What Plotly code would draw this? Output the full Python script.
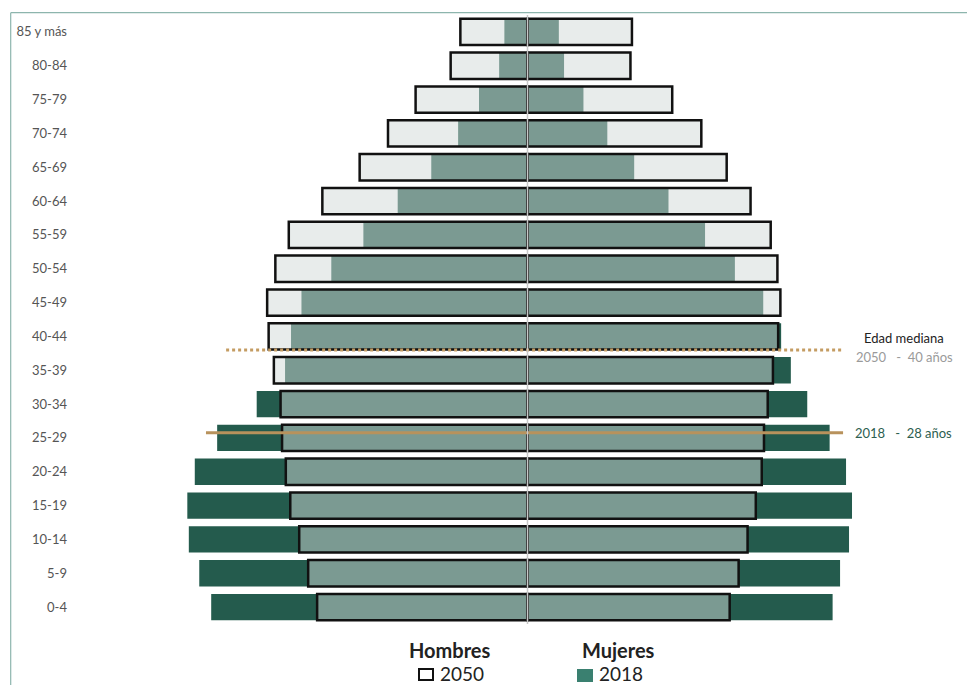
import plotly.graph_objects as go

# ---------------- data (percent of total population) ----------------
age_groups = ["0-4", "5-9", "10-14", "15-19", "20-24", "25-29", "30-34", "35-39",
              "40-44", "45-49", "50-54", "55-59", "60-64", "65-69", "70-74",
              "75-79", "80-84", "85 y más"]

men_2018 = [4.24, 4.40, 4.54, 4.56, 4.46, 4.16, 3.63, 3.25, 3.17, 3.03,
            2.63, 2.20, 1.74, 1.29, 0.93, 0.65, 0.38, 0.31]
women_2018 = [4.09, 4.19, 4.31, 4.35, 4.27, 4.05, 3.75, 3.53, 3.40, 3.16,
              2.78, 2.38, 1.89, 1.43, 1.07, 0.75, 0.49, 0.42]
men_2050 = [2.82, 2.94, 3.06, 3.18, 3.24, 3.29, 3.31, 3.40, 3.47, 3.49,
            3.38, 3.20, 2.75, 2.25, 1.87, 1.50, 1.03, 0.90]
women_2050 = [2.71, 2.83, 2.95, 3.06, 3.14, 3.17, 3.22, 3.29, 3.36, 3.39,
              3.35, 3.26, 2.99, 2.67, 2.33, 1.94, 1.38, 1.40]

median_label = "Edad mediana"
median_years = ["2050", "2018"]
median_ages = [40, 28]
# vertical position of each median line on the age-group axis
median_line_pos = [7.6, 5.15]
median_line_x = [[-4.04, 4.23], [-4.31, 4.23]]

legend_sex = ["Hombres", "Mujeres"]
legend_years = ["2050", "2018"]

# ---------------- styling / layout ----------------
OFF = 8                      # page body margin of the html page
W, H = 975 - OFF, 685 - OFF
ML, MR, MT, MB = 60, 10, 7, 61
FONT = "Lato"
DARK = "#245b4d"
OVER = "rgba(209,217,215,0.5)"
LEG2018 = "#3a8070"

idx = list(range(len(age_groups)))

fig = go.Figure()
fig.add_trace(go.Bar(y=idx, x=[-v for v in men_2018], orientation="h",
                     marker=dict(color=DARK, line=dict(width=0)), name="Hombres 2018"))
fig.add_trace(go.Bar(y=idx, x=women_2018, orientation="h",
                     marker=dict(color=DARK, line=dict(width=0)), name="Mujeres 2018"))
fig.add_trace(go.Bar(y=idx, x=[-v for v in men_2050], orientation="h",
                     marker=dict(color=OVER, line=dict(color="#111111", width=2.5)),
                     name="Hombres 2050"))
fig.add_trace(go.Bar(y=idx, x=women_2050, orientation="h",
                     marker=dict(color=OVER, line=dict(color="#111111", width=2.5)),
                     name="Mujeres 2050"))

# median age lines
fig.add_trace(go.Scatter(x=median_line_x[0], y=[median_line_pos[0]] * 2, mode="lines",
                         line=dict(color="#c49c62", width=3, dash="dot"), hoverinfo="skip"))
fig.add_trace(go.Scatter(x=median_line_x[1], y=[median_line_pos[1]] * 2, mode="lines",
                         line=dict(color="#b8925c", width=3), hoverinfo="skip"))

px_per_unit = 74.6
zero_px = 527.5 - OFF
plot_w = W - ML - MR
plot_h = H - MT - MB
x_range = [-(zero_px - ML) / px_per_unit, (W - MR - zero_px) / px_per_unit]


def px_x(p):  # screen pixel -> paper
    return (p - OFF - ML) / plot_w


def px_y(p):
    return (H - MB - (p - OFF)) / plot_h


annotations = [
    dict(x=4.48, y=7.96, xref="x", yref="y", text=median_label, showarrow=False,
         xanchor="left", yanchor="middle", font=dict(family=FONT, size=13, color="#222222")),
    dict(x=4.37, y=7.40, xref="x", yref="y",
         text=f"{median_years[0]}\u00a0\u00a0\u00a0-\u00a0\u00a0{median_ages[0]} años",
         showarrow=False, xanchor="left", yanchor="middle",
         font=dict(family=FONT, size=13, color="#9a9a9a")),
    dict(x=4.36, y=5.15, xref="x", yref="y",
         text=f"{median_years[1]}\u00a0\u00a0\u00a0-\u00a0\u00a0{median_ages[1]} años",
         showarrow=False, xanchor="left", yanchor="middle",
         font=dict(family=FONT, size=13, color="#2d5e50")),
    dict(x=px_x(450), y=px_y(650), xref="paper", yref="paper", text=f"<b>{legend_sex[0]}</b>",
         showarrow=False, xanchor="center", yanchor="middle",
         font=dict(family=FONT, size=20, color="#222222")),
    dict(x=px_x(618), y=px_y(650), xref="paper", yref="paper", text=f"<b>{legend_sex[1]}</b>",
         showarrow=False, xanchor="center", yanchor="middle",
         font=dict(family=FONT, size=20, color="#222222")),
    dict(x=px_x(438), y=px_y(673.5), xref="paper", yref="paper", text=legend_years[0],
         showarrow=False, xanchor="left", yanchor="middle",
         font=dict(family=FONT, size=19, color="#222222")),
    dict(x=px_x(597), y=px_y(673.5), xref="paper", yref="paper", text=legend_years[1],
         showarrow=False, xanchor="left", yanchor="middle",
         font=dict(family=FONT, size=19, color="#222222")),
]

shapes = [
    # centre line
    dict(type="line", xref="x", yref="y", x0=0, x1=0, y0=-0.5, y1=17.5,
         line=dict(color="#c8c8c8", width=1.5), layer="above"),
    # frame
    dict(type="line", xref="paper", yref="paper", x0=px_x(10.7), x1=px_x(10.7),
         y0=px_y(12.7), y1=px_y(685), line=dict(color="#8db5ad", width=1.2)),
    dict(type="line", xref="paper", yref="paper", x0=px_x(10.7), x1=px_x(975),
         y0=px_y(12.7), y1=px_y(12.7), line=dict(color="#8db5ad", width=1.2)),
    # legend symbols
    dict(type="rect", xref="paper", yref="paper", x0=px_x(419), x1=px_x(433),
         y0=px_y(680), y1=px_y(669), line=dict(color="#111111", width=2), fillcolor="white"),
    dict(type="rect", xref="paper", yref="paper", x0=px_x(577), x1=px_x(593),
         y0=px_y(682), y1=px_y(669), line=dict(width=0), fillcolor=LEG2018),
]

fig.update_layout(
    width=W, height=H,
    margin=dict(l=ML, r=MR, t=MT, b=MB, pad=0),
    barmode="overlay", bargap=0.22,
    plot_bgcolor="white", paper_bgcolor="white",
    showlegend=False,
    font=dict(family=FONT),
    xaxis=dict(range=x_range, visible=False, fixedrange=True),
    yaxis=dict(range=[-0.5, 17.5], tickmode="array", tickvals=idx, ticktext=age_groups,
               showgrid=False, zeroline=False, showline=False, ticks="",
               tickfont=dict(family=FONT, size=13, color="#555555"), fixedrange=True),
    annotations=annotations,
    shapes=shapes,
)

fig.write_html("out.html")
